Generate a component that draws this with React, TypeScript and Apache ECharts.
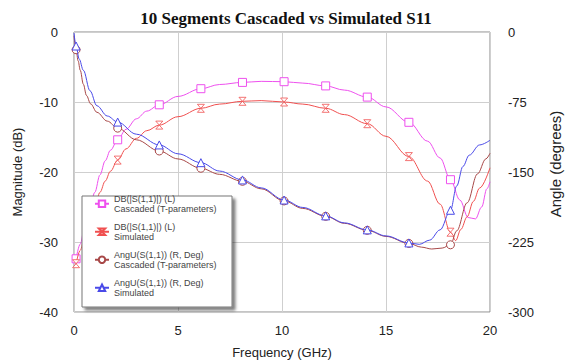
import React, { useEffect, useRef } from "react";
import * as echarts from "echarts";

const TITLE = "10 Segments Cascaded vs Simulated S11";
const xTicks = [0, 5, 10, 15, 20];
const leftTicks = [0, -10, -20, -30, -40];
const rightTicks = [0, -75, -150, -225, -300];

const seriesNames = [
  "DB(|S(1,1)|) (L)\nCascaded (T-parameters)",
  "DB(|S(1,1)|) (L)\nSimulated",
  "AngU(S(1,1)) (R, Deg)\nCascaded (T-parameters)",
  "AngU(S(1,1)) (R, Deg)\nSimulated",
];

const markerFreqs = [0.1, 2.1, 4.1, 6.1, 8.1, 10.1, 12.1, 14.1, 16.1, 18.1];

// DB cascaded (magenta)
const freqDbCasc = [0.1, 0.3, 0.5, 0.75, 1.0, 1.25, 1.5, 1.75, 2.1, 2.5, 3, 3.5, 4.1, 5, 6.1, 7, 8.1, 9, 10.1, 11, 12.1, 13, 14.1, 15, 16.1, 17, 17.6, 18.1, 18.55, 18.95, 19.3, 19.6, 19.85, 20];
const dbCasc = [-32.4, -30.3, -28.0, -25.4, -22.9, -20.4, -18.4, -16.9, -15.4, -13.9, -12.4, -11.3, -10.4, -9.2, -8.1, -7.5, -7.2, -7.05, -7.1, -7.3, -7.7, -8.3, -9.3, -10.7, -12.9, -15.6, -18.0, -21.1, -24.0, -26.5, -26.7, -25.0, -22.4, -21.4];

// DB simulated (red)
const freqDbSim = [0.1, 0.3, 0.5, 0.75, 1.0, 1.25, 1.5, 1.75, 2.1, 2.5, 3, 3.5, 4.1, 5, 6.1, 7, 8.1, 9, 10.1, 11, 12.1, 13, 14.1, 15, 16.1, 17, 17.6, 18.1, 18.35, 18.6, 18.9, 19.2, 19.5, 20];
const dbSim = [-33.1, -31.2, -29.3, -27.0, -24.9, -22.9, -21.3, -19.9, -18.3, -16.7, -15.2, -14.1, -13.3, -12.1, -10.9, -10.3, -9.9, -9.8, -10.0, -10.3, -10.9, -11.8, -13.1, -14.9, -17.8, -21.3, -24.6, -28.6, -29.8, -28.2, -26.4, -24.2, -22.3, -19.4];

// Angle cascaded (brown)
const freqAngCasc = [0, 0.1, 0.2, 0.3, 0.45, 0.6, 0.8, 1.1, 1.6, 2.1, 3, 4.1, 5, 6.1, 7, 8.1, 9, 10.1, 11, 12.1, 13, 14.1, 15, 16.1, 16.7, 17.2, 17.7, 18.1, 18.4, 18.9, 19.4, 19.8, 20];
const angCasc = [-4, -19, -31, -41, -56, -68, -77, -86, -95.5, -103, -115.5, -127.5, -136, -146, -152.5, -160, -168, -181, -189, -197.5, -205, -212.5, -219, -226.5, -230.5, -232.5, -231.5, -228, -213, -183, -152, -136, -130];

// Angle simulated (blue)
const freqAngSim = [0, 0.1, 0.25, 0.45, 0.77, 1.1, 1.6, 2.1, 3, 4.1, 5, 6.1, 7, 8.1, 9, 10.1, 11, 12.1, 13, 14.1, 15, 16.1, 16.6, 17.1, 17.6, 18.1, 18.4, 18.7, 19.0, 19.5, 20];
const angSim = [-1, -15, -29, -41, -63, -79, -90, -96.5, -109.5, -121, -130.5, -140, -149, -158.5, -167, -180, -188, -197, -204.5, -212, -218.5, -226, -227.5, -223, -212, -191, -165, -144, -132, -121, -116];

const COLORS = ["#ee50ee", "#f05050", "#a84848", "#4a4ae8"];
const SYMBOLS = ["rect", "path://M0,0L10,0L0,10L10,10Z", "circle", "triangle"];

function build(xs: number[], ys: number[]) {
  return xs.map((x, i) =>
    markerFreqs.indexOf(x) >= 0
      ? { value: [x, ys[i]] }
      : { value: [x, ys[i]], symbol: "none" }
  );
}

const FONT = "'Liberation Sans', Arial, sans-serif";

export default function App() {
  const ref = useRef<HTMLDivElement>(null);
  useEffect(() => {
    document.body.style.margin = "0";
    if (!ref.current) return;
    const chart = echarts.init(ref.current, null, { renderer: "svg" });
    const datasets = [
      { xs: freqDbCasc, ys: dbCasc, axis: 0 },
      { xs: freqDbSim, ys: dbSim, axis: 0 },
      { xs: freqAngCasc, ys: angCasc, axis: 1 },
      { xs: freqAngSim, ys: angSim, axis: 1 },
    ];
    const series = datasets.map((d, i) => ({
      name: seriesNames[i],
      type: "line",
      yAxisIndex: d.axis,
      data: build(d.xs, d.ys),
      smooth: 0.35,
      smoothMonotone: "x",
      symbol: SYMBOLS[i],
      symbolSize: i === 1 ? [7, 8] : 8,
      showSymbol: true,
      itemStyle: { color: "#fff", borderColor: COLORS[i], borderWidth: i === 1 ? 0.8 : 1 },
      lineStyle: { color: COLORS[i], width: 1 },
      emphasis: { disabled: true },
      z: 3 + i,
    }));
    chart.setOption({
      animation: false,
      backgroundColor: "#fff",
      title: {
        text: TITLE,
        left: 281,
        textAlign: "center",
        top: 5,
        textStyle: { fontFamily: "'Liberation Serif', 'Times New Roman', serif", fontSize: 17, fontWeight: "bold", color: "#111" },
      },
      grid: { left: 74, right: 75, top: 32, bottom: 52, show: true, borderColor: "#8a8a8a", borderWidth: 1, backgroundColor: "transparent" },
      legend: {
        orient: "vertical",
        left: 94,
        top: 188,
        itemWidth: 14,
        itemHeight: 8,
        itemGap: -3.5,
        selectedMode: false,
        padding: 0,
        z: 20,
        textStyle: { fontFamily: FONT, fontSize: 9, lineHeight: 10.5, color: "#444", padding: [10.5, 0, 0, 0] },
        data: seriesNames,
      },
      xAxis: {
        type: "value",
        min: xTicks[0],
        max: xTicks[xTicks.length - 1],
        interval: 5,
        name: "Frequency (GHz)",
        nameLocation: "middle",
        nameGap: 34,
        nameTextStyle: { fontFamily: FONT, fontSize: 13, color: "#222" },
        axisLine: { show: false },
        axisTick: { show: false },
        axisLabel: { fontFamily: FONT, fontSize: 13, color: "#222", margin: 12 },
        splitLine: { lineStyle: { color: "#cfcfcf", width: 1 } },
      },
      yAxis: [
        {
          type: "value",
          min: leftTicks[leftTicks.length - 1],
          max: leftTicks[0],
          interval: 10,
          name: "Magnitude (dB)",
          nameLocation: "middle",
          nameGap: 50,
          nameTextStyle: { fontFamily: FONT, fontSize: 13, color: "#222" },
          axisLine: { show: false },
          axisTick: { show: false },
          axisLabel: { fontFamily: FONT, fontSize: 13, color: "#222", margin: 16 },
          splitLine: { lineStyle: { color: "#cfcfcf", width: 1 } },
        },
        {
          type: "value",
          min: rightTicks[rightTicks.length - 1],
          max: rightTicks[0],
          interval: 75,
          position: "right",
          axisLine: { show: false },
          axisTick: { show: false },
          axisLabel: { fontFamily: FONT, fontSize: 13, color: "#222", margin: 18 },
          splitLine: { show: false },
        },
      ],
      graphic: [
        {
          type: "rect",
          z: 10,
          shape: { x: 82, y: 196, width: 150, height: 111 },
          style: { fill: "#fff", stroke: "#777", lineWidth: 1, shadowColor: "rgba(0,0,0,0.5)", shadowBlur: 3, shadowOffsetX: 3, shadowOffsetY: 3 },
        },
        {
          type: "text",
          x: 555,
          y: 164,
          rotation: Math.PI / 2,
          style: { text: "Angle (degrees)", fontFamily: FONT, fontSize: 15, fill: "#222", align: "center", verticalAlign: "middle" },
        },
      ],
      series,
    });
    return () => chart.dispose();
  }, []);
  return <div ref={ref} style={{ width: 565, height: 364 }} />;
}
